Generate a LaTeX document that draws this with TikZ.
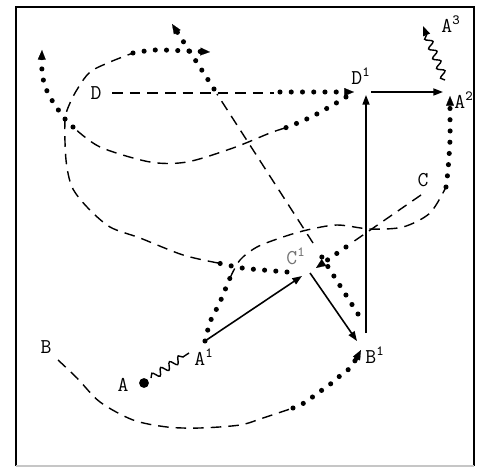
\documentclass[tikz,border=0pt]{standalone}
\usepackage{tikz}
\usetikzlibrary{arrows.meta,decorations.pathmorphing}

\begin{document}
\begin{tikzpicture}[x=0.02cm,y=-0.02cm,
  every node/.style={font=\ttfamily\fontsize{12}{14}\selectfont,inner sep=1pt},
  dashline/.style={line width=0.8pt,dash pattern=on 6pt off 4pt},
  dotline/.style={line width=2.9pt,line cap=round,dash pattern=on 0pt off 6.4pt},
  dottip/.style={-{Triangle[length=5.5pt,width=4.5pt,line width=0.1pt]}},
  solidarrow/.style={line width=0.9pt,-{Triangle[length=5.5pt,width=4pt]}},
  wave/.style={line width=0.8pt,decorate,decoration={snake,amplitude=2pt,segment length=6pt,post length=3pt}}]
  \useasboundingbox (0,0) rectangle (486,469);
  \draw[line width=1.2pt] (16,466) -- (16,7) -- (474,7) -- (474,466);
  \draw[gray!45,line width=0.8pt] (16,466) -- (474,466);

  \coordinate (A) at (144,383);
  \coordinate (A1) at (205,341);
  \coordinate (C1in) at (302,276);
  \coordinate (C1out) at (310,273);
  \coordinate (B1) at (357,341);
  \coordinate (B1foot) at (366,333);
  \coordinate (D1up) at (366,95);
  \coordinate (D1) at (371,92);
  \coordinate (A2left) at (443,92);
  \coordinate (A2) at (450,96);
  \coordinate (A3) at (423,26);

  \node (lA) at (123,385) {A};
  \node (lA1) at (204,357) {A\textsuperscript{1}};
  \node (lB) at (46,347) {B};
  \node (lB1) at (375,355) {B\textsuperscript{1}};
  \node (lC) at (423,180) {C};
  \node[text=black!55] (lC1) at (296,256) {C\textsuperscript{1}};
  \node (lD) at (96,93) {D};
  \node (lD1) at (361,76) {D\textsuperscript{1}};
  \node (lA2) at (464,100) {A\textsuperscript{2}};
  \node (lA3) at (451,24) {A\textsuperscript{3}};

  \fill (A) circle (2.8pt);
  \draw[wave] (151,378) -- (189,353);
  \draw[wave,-{Triangle[length=5.5pt,width=4pt]}] (445,80) -- (A3);

  \foreach \s/\t in {A1/C1in,C1out/B1,B1foot/D1up,D1/A2left}{\draw[solidarrow] (\s)--(\t);}

  \coordinate (Dmid) at (274,93);
  \coordinate (D1in) at (354,92);
  \draw[dashline,shorten <=5pt] (lD.east) -- (Dmid);
  \draw[dotline,dottip] (280,92) -- (D1in);

  \draw[dotline,dottip] plot[smooth] coordinates {(73,127) (65,119) (57,108) (50,97) (45,86) (42,72) (42,50)};
  \draw[dashline] plot[smooth] coordinates {(285,128) (270,133) (233,148) (187,162) (150,162) (100,147) (73,127)};
  \draw[dotline] plot[smooth] coordinates {(346,97) (338,102) (315,115) (300,122) (285,128)};

  \draw[dotline] plot[smooth] coordinates {(287,272) (263,270) (242,268) (218,263)};
  \draw[dashline] plot[smooth] coordinates {(218,263) (183,255) (140,238) (110,227) (87,207) (72,187) (66,160) (65,120) (70,103) (78,88) (90,72) (110,62) (133,53)};
  \draw[dotline,dottip] plot[smooth] coordinates {(133,53) (155,50) (188,51) (210,52)};

  \draw[dotline] (358,314) -- (318,251);
  \draw[dashline] (313,243) -- (217,94);
  \draw[dotline,dottip] (214,89) -- (172,24);

  \draw[dashline] (421,195) -- (350,244);
  \draw[dotline,dottip] (346,247) -- (316,268);

  \draw[dotline] plot[smooth] coordinates {(A1) (207,333) (210,322) (215,312) (220,302) (225,290) (230,278)};
  \draw[dashline] plot[smooth] coordinates {(230,278) (240,260) (257,247) (283,237) (307,230) (337,225) (370,229) (403,227) (430,213) (446,187)};
  \draw[dotline,dottip] plot[smooth] coordinates {(446,187) (448,170) (450,140) (450,115) (A2)};

  \draw[dashline] plot[smooth] coordinates {(58,360) (77,378) (100,402) (133,420) (167,427) (200,428) (240,425) (263,418) (293,408)};
  \draw[dotline,dottip] plot[smooth] coordinates {(293,408) (306,402) (315,395) (325,388) (333,382) (341,375) (350,368) (356,359) (361,350)};
\end{tikzpicture}
\end{document}
